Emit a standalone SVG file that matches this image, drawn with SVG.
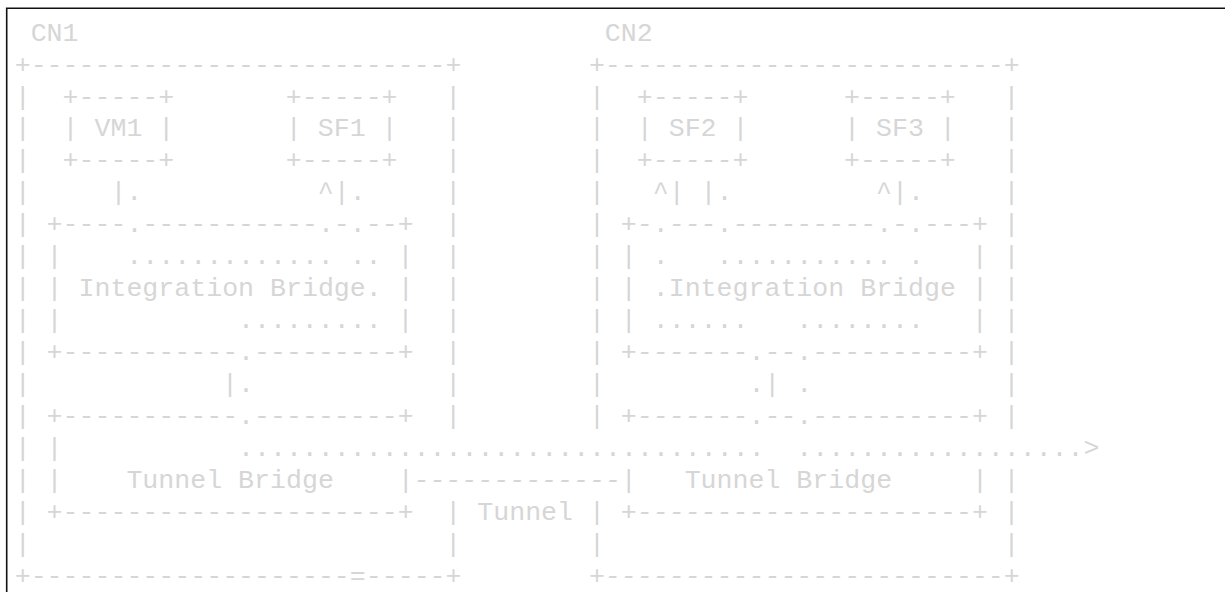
<svg xmlns="http://www.w3.org/2000/svg" width="1225" height="592" viewBox="0 0 1225 592" xml:space="preserve">
<style>
  text { font-family: "Liberation Mono", "Courier New", monospace; font-size: 26.6px; fill: #d6d6d6; white-space: pre; }
  .frame { fill: none; stroke: #111; stroke-width: 1.6; }
</style>
<rect width="1225" height="592" fill="#ffffff"/>
<path class="frame" d="M6.7 592 V8.3 H1225"/>

<g id="cn1">
<text><tspan x="30.65" y="40.6">CN1</tspan><tspan x="14.7" y="72.55">+--------------------------+</tspan><tspan x="14.7" y="104.5">|</tspan><tspan x="445.35" y="104.5">|</tspan><tspan x="14.7" y="136.45">|</tspan><tspan x="445.35" y="136.45">|</tspan><tspan x="14.7" y="168.4">|</tspan><tspan x="445.35" y="168.4">|</tspan><tspan x="14.7" y="200.35">|</tspan><tspan x="445.35" y="200.35">|</tspan><tspan x="14.7" y="232.3">|</tspan><tspan x="445.35" y="232.3">|</tspan><tspan x="14.7" y="264.25">|</tspan><tspan x="445.35" y="264.25">|</tspan><tspan x="14.7" y="296.2">|</tspan><tspan x="445.35" y="296.2">|</tspan><tspan x="14.7" y="328.15">|</tspan><tspan x="445.35" y="328.15">|</tspan><tspan x="14.7" y="360.1">|</tspan><tspan x="445.35" y="360.1">|</tspan><tspan x="14.7" y="392.05">|</tspan><tspan x="445.35" y="392.05">|</tspan><tspan x="14.7" y="424">|</tspan><tspan x="445.35" y="424">|</tspan><tspan x="14.7" y="455.95">|</tspan><tspan x="14.7" y="487.9">|</tspan><tspan x="14.7" y="519.85">|</tspan><tspan x="445.35" y="519.85">|</tspan><tspan x="14.7" y="551.8">|</tspan><tspan x="445.35" y="551.8">|</tspan><tspan x="14.7" y="583.75">+--------------------=-----+</tspan></text>
</g>

<g id="cn2">
<text><tspan x="604.85" y="40.6">CN2</tspan><tspan x="588.9" y="72.55">+-------------------------+</tspan><tspan x="588.9" y="104.5">|</tspan><tspan x="1003.6" y="104.5">|</tspan><tspan x="588.9" y="136.45">|</tspan><tspan x="1003.6" y="136.45">|</tspan><tspan x="588.9" y="168.4">|</tspan><tspan x="1003.6" y="168.4">|</tspan><tspan x="588.9" y="200.35">|</tspan><tspan x="1003.6" y="200.35">|</tspan><tspan x="588.9" y="232.3">|</tspan><tspan x="1003.6" y="232.3">|</tspan><tspan x="588.9" y="264.25">|</tspan><tspan x="1003.6" y="264.25">|</tspan><tspan x="588.9" y="296.2">|</tspan><tspan x="1003.6" y="296.2">|</tspan><tspan x="588.9" y="328.15">|</tspan><tspan x="1003.6" y="328.15">|</tspan><tspan x="588.9" y="360.1">|</tspan><tspan x="1003.6" y="360.1">|</tspan><tspan x="588.9" y="392.05">|</tspan><tspan x="1003.6" y="392.05">|</tspan><tspan x="588.9" y="424">|</tspan><tspan x="1003.6" y="424">|</tspan><tspan x="1003.6" y="487.9">|</tspan><tspan x="588.9" y="519.85">|</tspan><tspan x="1003.6" y="519.85">|</tspan><tspan x="588.9" y="551.8">|</tspan><tspan x="1003.6" y="551.8">|</tspan><tspan x="588.9" y="583.75">+-------------------------+</tspan></text>
</g>

<g id="vm1">
<text><tspan x="62.55" y="104.5">+-----+</tspan><tspan x="62.55" y="136.45">| VM1 |</tspan><tspan x="62.55" y="168.4">+-----+</tspan></text>
</g>

<g id="sf1">
<text><tspan x="285.85" y="104.5">+-----+</tspan><tspan x="285.85" y="136.45">| SF1 |</tspan><tspan x="285.85" y="168.4">+-----+</tspan></text>
</g>

<g id="sf2">
<text><tspan x="636.75" y="104.5">+-----+</tspan><tspan x="636.75" y="136.45">| SF2 |</tspan><tspan x="636.75" y="168.4">+-----+</tspan></text>
</g>

<g id="sf3">
<text><tspan x="844.1" y="104.5">+-----+</tspan><tspan x="844.1" y="136.45">| SF3 |</tspan><tspan x="844.1" y="168.4">+-----+</tspan></text>
</g>

<g id="integration-bridge-1">
<text><tspan x="46.6" y="232.3">+----.-----------.-.--+</tspan><tspan x="46.6" y="264.25">|</tspan><tspan x="397.5" y="264.25">|</tspan><tspan x="46.6" y="296.2">| Integration Bridge. |</tspan><tspan x="46.6" y="328.15">|</tspan><tspan x="397.5" y="328.15">|</tspan><tspan x="46.6" y="360.1">+-----------.---------+</tspan></text>
</g>

<g id="integration-bridge-2">
<text><tspan x="620.8" y="232.3">+-.---.---------.-.---+</tspan><tspan x="620.8" y="264.25">|</tspan><tspan x="971.7" y="264.25">|</tspan><tspan x="620.8" y="296.2">| .Integration Bridge |</tspan><tspan x="620.8" y="328.15">|</tspan><tspan x="971.7" y="328.15">|</tspan><tspan x="620.8" y="360.1">+-------.--.----------+</tspan></text>
</g>

<g id="tunnel-bridge-1">
<text><tspan x="46.6" y="424">+-----------.---------+</tspan><tspan x="46.6" y="455.95">|</tspan><tspan x="46.6" y="487.9">|    Tunnel Bridge    |</tspan><tspan x="46.6" y="519.85">+---------------------+</tspan></text>
</g>

<g id="tunnel-bridge-2">
<text><tspan x="620.8" y="424">+-------.--.----------+</tspan><tspan x="620.8" y="487.9">|   Tunnel Bridge     |</tspan><tspan x="620.8" y="519.85">+---------------------+</tspan></text>
</g>

<g id="tunnel">
<text><tspan x="413.45" y="487.9">-------------</tspan><tspan x="477.25" y="519.85">Tunnel</tspan></text>
</g>

<g id="connectors">
<text><tspan x="110.4" y="200.35">|.</tspan><tspan x="317.75" y="200.35">^|.</tspan><tspan x="652.7" y="200.35">^|</tspan><tspan x="700.55" y="200.35">|.</tspan><tspan x="876" y="200.35">^|.</tspan><tspan x="126.35" y="264.25">.............</tspan><tspan x="349.65" y="264.25">..</tspan><tspan x="652.7" y="264.25">.</tspan><tspan x="716.5" y="264.25">...........</tspan><tspan x="907.9" y="264.25">.</tspan><tspan x="238" y="328.15">.........</tspan><tspan x="652.7" y="328.15">......</tspan><tspan x="796.25" y="328.15">........</tspan><tspan x="222.05" y="392.05">|.</tspan><tspan x="748.4" y="392.05">.|</tspan><tspan x="796.25" y="392.05">.</tspan><tspan x="238" y="455.95">.................................</tspan><tspan x="796.25" y="455.95">..................&gt;</tspan></text>
</g>
</svg>
